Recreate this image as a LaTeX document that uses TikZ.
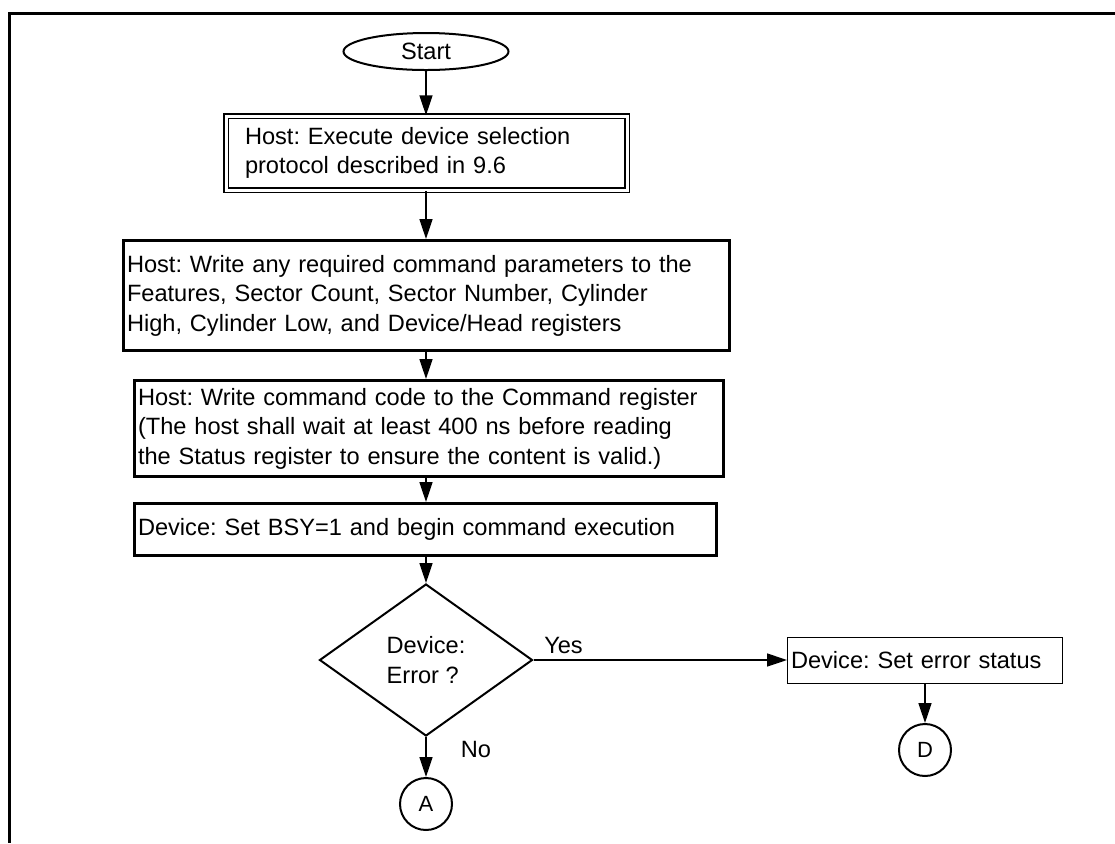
\documentclass[tikz,border=0pt]{standalone}
\usepackage{fontspec}
\setmainfont{Liberation Sans}
\usetikzlibrary{shapes.geometric, arrows.meta, positioning, calc}
\frenchspacing

\begin{document}
\begin{tikzpicture}[x=0.5pt, y=-0.5pt,
  every node/.style={font=\fontsize{11.8}{14.75}\selectfont},
  hostbox/.style={draw, line width=1.5pt, align=left, inner xsep=1.75pt, inner ysep=0pt},
  flow/.style={-{Triangle[length=10pt, width=6.5pt]}, line width=0.75pt},
  flowlabel/.style={inner sep=0pt, anchor=base west},
  connector/.style={draw, circle, line width=1pt, minimum size=26pt, inner sep=0pt, font=\fontsize{11}{13}\selectfont}]
  \useasboundingbox (0,0) rectangle (1115,843);

  % Frame
  \draw[line width=1.5pt] (1115,13) -- (9,13) -- (9,843);

  % Start
  \node[draw, ellipse, line width=1pt, minimum width=82.5pt, minimum height=18.5pt, inner sep=0pt] (start) at (426,51.5) {Start};

  % Host steps
  \node[draw, double, line width=0.75pt, double distance=1.5pt, align=left, inner xsep=9.5pt, inner ysep=0pt,
        text width=181.5pt, minimum height=37pt] (select) at (426.5,153) {Host: Execute device selection\\protocol described in 9.6};
  \node[hostbox, text width=299.5pt, minimum height=55pt] (params) at (426.5,295.5)
    {Host: Write any required command parameters to the\\Features, Sector Count, Sector Number, Cylinder\\High, Cylinder Low, and Device/Head registers};
  \node[hostbox, text width=291pt, minimum height=48pt] (cmdreg) at (429,428.5)
    {Host: Write command code to the Command register\\(The host shall wait at least 400 ns before reading\\the Status register to ensure the content is valid.)};
  \node[hostbox, text width=287.5pt, minimum height=26pt] (bsy) at (425.5,529.5) {Device: Set BSY=1 and begin command execution};

  % Decision
  \node[draw, diamond, line width=1pt, minimum width=106.5pt, minimum height=76pt, inner sep=0pt, align=left] (err) at (426,660) {Device:\\Error ?};
  \node[draw, line width=0.5pt, align=left, inner xsep=1.75pt, inner ysep=0pt, text width=134pt, minimum height=23pt] (errset) at (925,660.5) {Device: Set error status};

  % Off-page connectors
  \node[connector] (conA) at (426,804) {A};
  \node[connector] (conD) at (925,750) {D};

  % Arrows
  \draw[flow] (start.south) -- (select.north -| start);
  \draw[flow] (select.south -| start) -- (params.north -| start);
  \draw[flow] (params.south -| start) -- (cmdreg.north -| start);
  \draw[flow] (cmdreg.south -| start) -- (bsy.north -| start);
  \draw[flow] (bsy.south -| start) -- (err.north);
  \draw[flow] (err.east) -- node[flowlabel, pos=0, xshift=5pt, yshift=3.5pt] {Yes} (err.east -| errset.west);
  \draw[flow] (err.south) -- node[flowlabel, pos=0, xshift=17pt, yshift=-10pt] {No} (conA.north);
  \draw[flow] (errset.south -| conD) -- (conD.north);
\end{tikzpicture}
\end{document}
